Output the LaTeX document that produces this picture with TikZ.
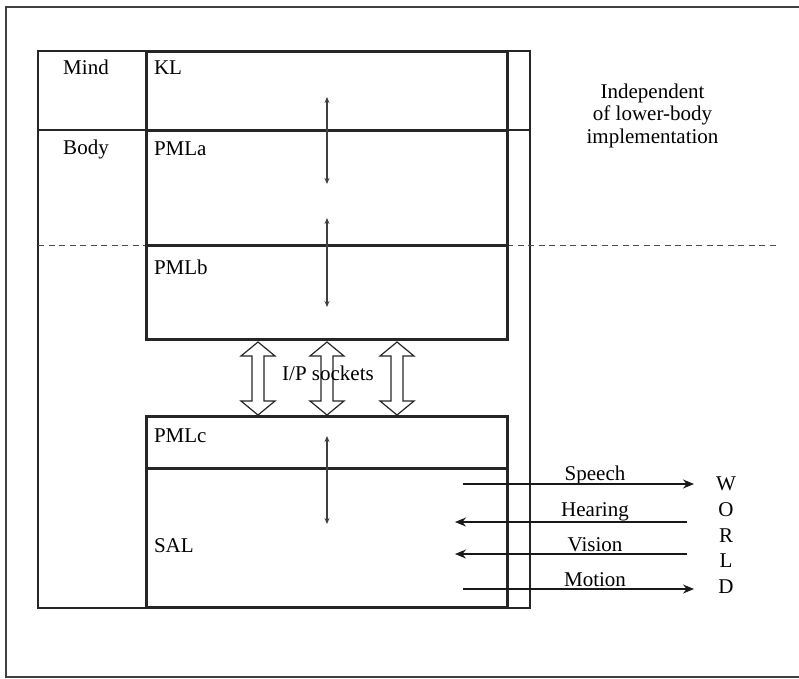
\documentclass[tikz,border=0pt]{standalone}
\usepackage{fontspec}
\setmainfont{Liberation Serif}
\usetikzlibrary{arrows.meta}
\begin{document}
\begin{tikzpicture}[x=1pt,y=-1pt,
  lbl/.style={inner sep=0pt,outer sep=0pt,font=\fontsize{21}{22.5}\selectfont},
  thinline/.style={line width=1.3pt,draw=black!85},
  thickline/.style={line width=3pt,draw=black!85},
  frameline/.style={line width=1.5pt,draw=black!75},
  dashline/.style={line width=1.5pt,draw=black!70,dash pattern=on 6pt off 4.5pt},
  vdarrow/.style={line width=1.2pt,draw=black!75,{Stealth[length=6pt,width=5pt]}-{Stealth[length=6pt,width=5pt]}},
  harrow/.style={line width=1.2pt,draw=black!90,-{Stealth[length=11pt,width=9pt]}},
  hollow/.style={line width=1.2pt,draw=black!85,line join=miter}]
\useasboundingbox (0,0) rectangle (799,678);
% outer frame
\draw[frameline] (801,7) -- (6,7) -- (6,677) -- (801,677);
% thin outer column box
\draw[thinline] (38,51) rectangle (530,608);
\draw[thinline] (38,130) -- (530,130);
% dashed line
\draw[dashline] (38,245.7) -- (146,245.7);
\draw[dashline] (507,245.7) -- (780,245.7);
% upper thick box
\draw[thickline] (146,51) rectangle (507,339);
\draw[thickline] (146,130) -- (507,130);
\draw[thickline] (146,245.7) -- (507,245.7);
% lower thick box
\draw[thickline] (146,416) rectangle (507,607);
\draw[thickline] (146,468) -- (507,468);
% labels
\node[lbl,anchor=base] (mind) at (86,74) {Mind};
\node[lbl,anchor=base] (body) at (86,154) {Body};
\node[lbl,anchor=base west] (kl) at (154,74) {KL};
\node[lbl,anchor=base west] (pmla) at (154,155) {PMLa};
\node[lbl,anchor=base west] (pmlb) at (154,274) {PMLb};
\node[lbl,anchor=base west] (pmlc) at (154,442) {PMLc};
\node[lbl,anchor=base west] (sal) at (154,552) {SAL};
\node[lbl,anchor=base,align=center] (indep) at (652.5,143) {Independent\\of lower-body\\implementation};
% vertical double arrows
\coordinate (a1t) at (327,97);  \coordinate (a1b) at (327,184);
\coordinate (a2t) at (327,218); \coordinate (a2b) at (327,307);
\coordinate (a3t) at (327,436); \coordinate (a3b) at (327,524);
\draw[vdarrow] (a1t) -- (a1b);
\draw[vdarrow] (a2t) -- (a2b);
\draw[vdarrow] (a3t) -- (a3b);
% hollow socket arrows
\foreach \c in {258,327,397}{
  \draw[hollow] (\c,342) -- (\c+17,356) -- (\c+6,356) -- (\c+6,401) -- (\c+17,401)
    -- (\c,415) -- (\c-17,401) -- (\c-6,401) -- (\c-6,356) -- (\c-17,356) -- cycle;
}
\node[lbl,anchor=base] (sock) at (328,380) {I/P sockets};
% world channels
\node[lbl,anchor=base] (speech) at (595,480) {Speech};
\node[lbl,anchor=base] (hearing) at (595,516) {Hearing};
\node[lbl,anchor=base] (vision) at (595,551) {Vision};
\node[lbl,anchor=base] (motion) at (595,586) {Motion};
\node[lbl,anchor=base] (w) at (726,490) {W};
\node[lbl,anchor=base] (o) at (726,516) {O};
\node[lbl,anchor=base] (r) at (726,542) {R};
\node[lbl,anchor=base] (l) at (726,567) {L};
\node[lbl,anchor=base] (d) at (726,593) {D};
\coordinate (sp1) at (463,484); \coordinate (sp2) at (694,484);
\coordinate (he1) at (687,522); \coordinate (he2) at (455,522);
\coordinate (vi1) at (687,554); \coordinate (vi2) at (455,554);
\coordinate (mo1) at (463,589); \coordinate (mo2) at (694,589);
\draw[harrow] (sp1) -- (sp2);
\draw[harrow] (he1) -- (he2);
\draw[harrow] (vi1) -- (vi2);
\draw[harrow] (mo1) -- (mo2);
\end{tikzpicture}
\end{document}
